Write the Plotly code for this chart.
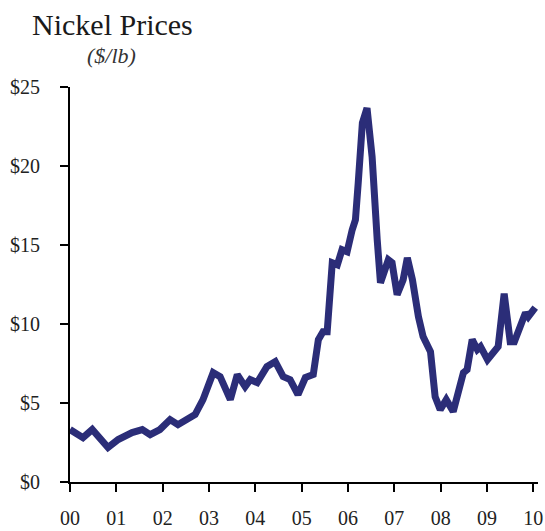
import plotly.graph_objects as go

# Decimal-year positions and nickel price ($/lb)
years = [2000.00, 2000.28, 2000.48, 2000.82, 2001.04, 2001.34, 2001.56, 2001.73, 2001.94,
         2002.16, 2002.33, 2002.53, 2002.70, 2002.87, 2003.09, 2003.24, 2003.46, 2003.61,
         2003.78, 2003.89, 2004.04, 2004.25, 2004.43, 2004.60, 2004.75, 2004.92, 2005.08,
         2005.25, 2005.36, 2005.46, 2005.55, 2005.66, 2005.77, 2005.87, 2005.98, 2006.09,
         2006.16, 2006.22, 2006.31, 2006.41, 2006.52, 2006.63, 2006.70, 2006.87, 2006.95,
         2007.06, 2007.19, 2007.28, 2007.39, 2007.52, 2007.62, 2007.78, 2007.84, 2007.88,
         2007.99, 2008.12, 2008.27, 2008.38, 2008.49, 2008.57, 2008.68, 2008.79, 2008.86,
         2009.01, 2009.14, 2009.24, 2009.37, 2009.50, 2009.59, 2009.83, 2009.89, 2010.04]
prices = [3.32, 2.81, 3.32, 2.18, 2.69, 3.13, 3.32, 3.00, 3.32,
          3.95, 3.63, 3.95, 4.27, 5.21, 6.92, 6.67, 5.21, 6.80,
          6.04, 6.48, 6.29, 7.30, 7.62, 6.67, 6.48, 5.53, 6.61,
          6.80, 9.01, 9.51, 9.51, 13.88, 13.75, 14.70, 14.57, 15.96,
          16.59, 18.93, 22.72, 23.67, 20.58, 15.33, 12.61, 14.06, 13.88,
          11.85, 12.80, 14.19, 12.80, 10.46, 9.20, 8.25, 6.67, 5.40,
          4.58, 5.21, 4.46, 5.66, 6.92, 7.11, 9.01, 8.38, 8.57,
          7.74, 8.25, 8.57, 11.92, 8.88, 8.88, 10.71, 10.46, 11.03]

x_tickvals = [2000, 2001, 2002, 2003, 2004, 2005, 2006, 2007, 2008, 2009, 2010]
x_ticktext = ["00", "01", "02", "03", "04", "05", "06", "07", "08", "09", "10"]
y_tickvals = [0, 5, 10, 15, 20, 25]
y_ticktext = ["$0", "$5", "$10", "$15", "$20", "$25"]

title_text = "Nickel Prices"
subtitle_text = "($/lb)"

W, H = 545, 531
ML, MR, MT, MB = 70, 7.4, 87, 48.5
pw = W - ML - MR
ph = H - MT - MB

def px(x):
    return (x - ML) / pw

def py(y):
    return (H - MB - y) / ph

FONT = "Liberation Serif"

fig = go.Figure()
fig.add_trace(go.Scatter(
    x=years, y=prices, mode="lines",
    line=dict(color="#2b2d78", width=7, shape="linear"),
    hoverinfo="skip", showlegend=False,
))

axis_common = dict(
    showline=True, linecolor="black", linewidth=2,
    ticks="outside", ticklen=8, tickwidth=2, tickcolor="black",
    showgrid=False, zeroline=False, automargin=False,
    tickfont=dict(family=FONT, size=20, color="#222222"),
)

fig.update_xaxes(range=[2000, 2010.1], tickmode="array", tickvals=x_tickvals,
                 ticktext=x_ticktext, ticklabelstandoff=9, **axis_common)
fig.update_yaxes(range=[0, 25], tickmode="array", tickvals=y_tickvals,
                 ticktext=y_ticktext, ticklabelstandoff=16, **axis_common)

fig.add_annotation(text=title_text, xref="paper", yref="paper",
                   x=px(112), y=py(24), xanchor="center", yanchor="middle",
                   showarrow=False, font=dict(family=FONT, size=30, color="#1a1a1a"))
fig.add_annotation(text="<i>" + subtitle_text + "</i>", xref="paper", yref="paper",
                   x=px(111), y=py(55), xanchor="center", yanchor="middle",
                   showarrow=False, font=dict(family=FONT, size=22, color="#333333"))

fig.update_layout(
    width=W, height=H,
    margin=dict(l=ML, r=MR, t=MT, b=MB, pad=0, autoexpand=False),
    paper_bgcolor="white", plot_bgcolor="white",
)

fig.write_html(
    "out.html",
    config={"displayModeBar": False},
    post_script="document.body.style.margin='0';document.body.style.padding='0';"
                "document.body.style.overflow='hidden';",
)
